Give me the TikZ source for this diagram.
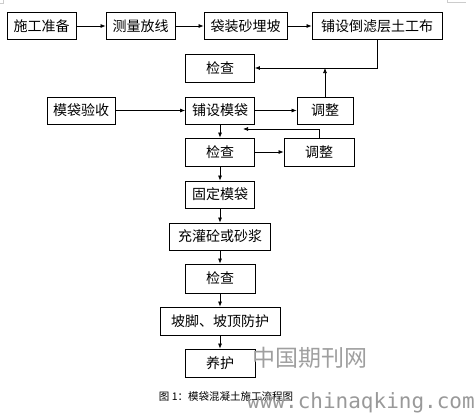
\documentclass[tikz,border=0pt]{standalone}
\usepackage{fontspec}
\usepackage{tikz}
\usetikzlibrary{arrows.meta,positioning}
\newfontfamily\cjk{Noto Sans CJK SC}
\newfontfamily\wmmono{DejaVu Sans Mono}

\begin{document}
\begin{tikzpicture}[x=1pt, y=-1pt, font=\cjk\fontsize{14}{16}\selectfont, box/.style={draw, line width=0.8pt, inner sep=0pt, minimum height=27pt, align=center}, arr/.style={-{Latex[length=5pt,width=4pt]}, line width=0.7pt}]
\useasboundingbox (0,0) rectangle (476,415);
% page corner marks
\draw[gray!40, line width=0.5pt] (3,0) -- (3,3) -- (0,3);
\draw[gray!40, line width=0.5pt] (447,0) -- (447,2) -- (466,2);
% top row
\node[box, minimum width=69pt] (prep) at (41.5,26) {施工准备};
\node[box, minimum width=69pt] (survey) at (140.5,26) {测量放线};
\node[box, minimum width=83pt] (sandbag) at (245.5,26) {袋装砂埋坡};
\node[box, minimum width=130pt] (filter) at (377,26) {铺设倒滤层土工布};
% main column
\node[box, minimum width=69pt, minimum height=28pt] (check1) at (220,68) {检查};
\node[box, minimum width=68pt] (accept) at (81,110.5) {模袋验收};
\node[box, minimum width=69pt] (lay) at (220,110.5) {铺设模袋};
\node[box, minimum width=56pt] (adj1) at (325,110.5) {调整};
\node[box, minimum width=69pt, minimum height=28pt] (check2) at (220,152) {检查};
\node[box, minimum width=70pt, minimum height=28pt] (adj2) at (319,152) {调整};
\node[box, minimum width=69pt] (fix) at (220,194.5) {固定模袋};
\node[box, minimum width=101pt] (fill) at (220,236.5) {充灌砼或砂浆};
\node[box, minimum width=70pt, minimum height=29pt] (check3) at (220,278.5) {检查};
\node[box, minimum width=120pt, minimum height=28pt] (protect) at (220,321) {坡脚、坡顶防护};
\node[box, minimum width=70pt, minimum height=28pt] (cure) at (220,363) {养护};
\coordinate (ret) at (243,129);
% connectors
\draw[arr] (prep) -- (survey);
\draw[arr] (survey) -- (sandbag);
\draw[arr] (sandbag) -- (filter);
\draw[arr] (filter.south) |- (check1.east);
\draw[arr] (adj1.north) -- (adj1.north |- check1.east);
\draw[arr] (accept) -- (lay);
\draw[arr] (lay) -- (adj1);
\draw[arr] (lay) -- (check2);
\draw[arr] (adj2.north) |- (ret);
\draw[arr] (check2) -- (adj2);
\draw[arr] (check2) -- (fix);
\draw[arr] (fix) -- (fill);
\draw[arr] (fill) -- (check3);
\draw[arr] (check3) -- (protect);
\draw[arr] (protect) -- (cure);
% caption and watermark
\node[font=\cjk\fontsize{10.5}{12}\selectfont] (cap) at (226,397) {图 1：模袋混凝土施工流程图};
\node[text=gray!75, font=\cjk\fontsize{23}{25}\selectfont, anchor=west, inner sep=0pt] (wmcn) at (252,358) {中国期刊网};
\node[text=gray!80, font=\wmmono\fontsize{21}{24}\selectfont, anchor=base west, inner sep=0pt] (wmurl) at (247,408) {www.chinaqking.com};
\end{tikzpicture}
\end{document}
